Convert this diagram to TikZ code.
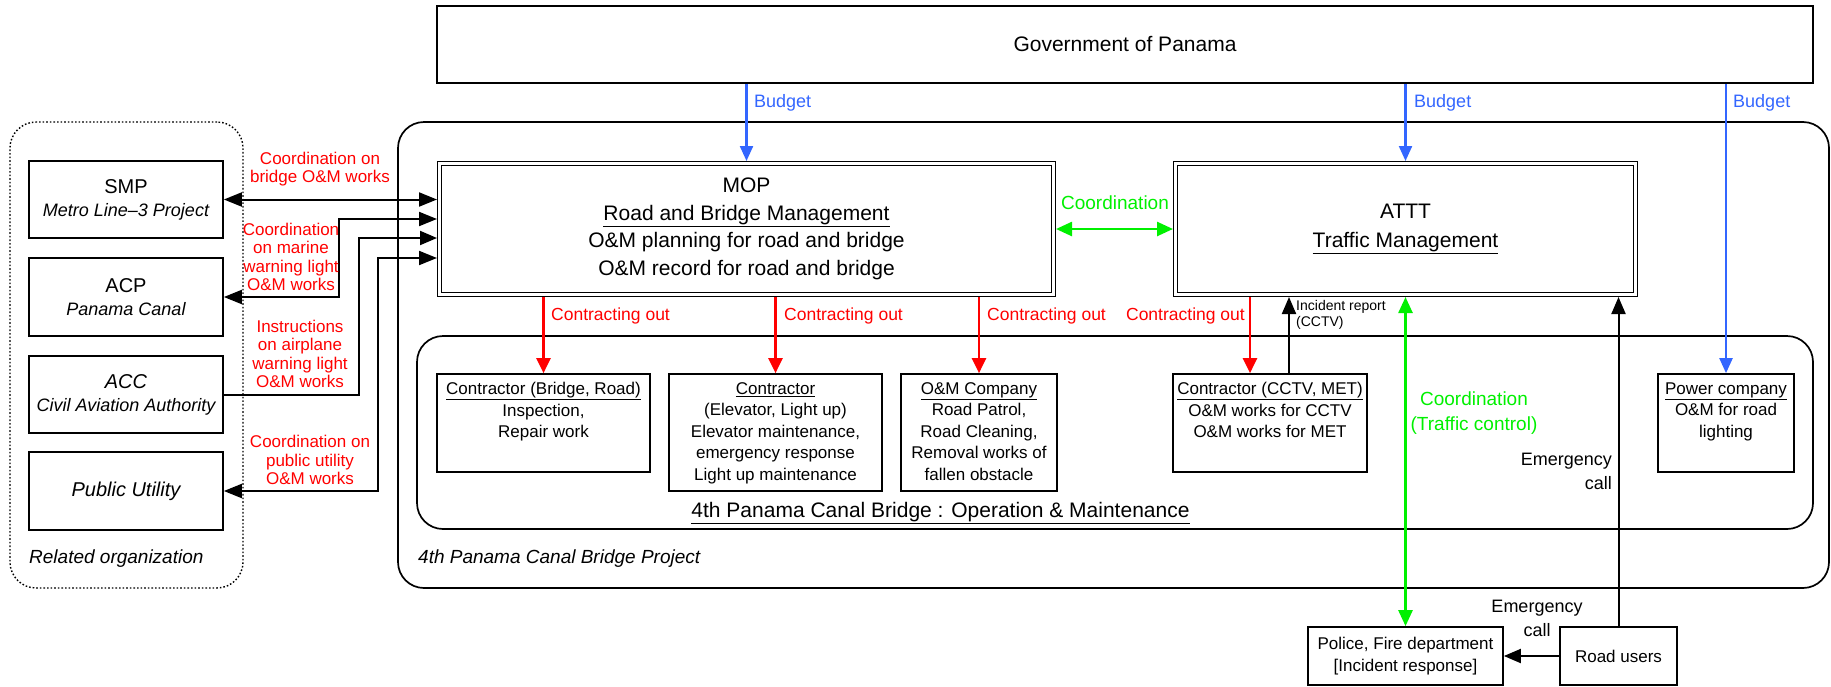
\documentclass[tikz,border=0pt]{standalone}
\usepackage{fontspec}
\setmainfont{Liberation Sans}
\usetikzlibrary{arrows.meta,calc}

\definecolor{budgetblue}{RGB}{51,102,255}
\definecolor{coordgreen}{RGB}{0,240,0}
\definecolor{workred}{RGB}{255,0,0}

\newcommand{\fsz}[2]{\fontsize{#1pt}{#2pt}\selectfont}

\begin{document}
\begin{tikzpicture}[x=1pt,y=-1pt,
  box/.style={draw,line width=1.7pt,inner sep=0pt,align=center},
  mainbox/.style={draw,line width=1.4pt,double,double distance=2.6pt,outer sep=2.7pt,inner sep=0pt,align=center},
  cont/.style={draw,line width=1.7pt,rounded corners=26pt,inner sep=0pt},
  intext/.style={font=\fsz{17}{21.5},align=center,inner sep=0pt},
  orgtext/.style={font=\fsz{18}{23},align=center},
  blkboth/.style={line width=2pt,{Triangle[length=18pt,width=14pt]}-{Triangle[length=18pt,width=14pt]}},
  blkto/.style={line width=2pt,-{Triangle[length=17pt,width=14pt]}},
  redto/.style={workred,line width=2.3pt,-{Triangle[length=15pt,width=14pt]}},
  greenboth/.style={coordgreen,line width=2.5pt,{Triangle[length=16pt,width=14pt]}-{Triangle[length=16pt,width=14pt]}},
  blueto/.style={budgetblue,line width=2.2pt,-{Triangle[length=15pt,width=13pt]}},
  redlbl/.style={text=workred,font=\fsz{17}{18.3},align=center,inner sep=0pt},
  greenlbl/.style={text=coordgreen,font=\fsz{19}{25},align=center,inner sep=0pt},
  bluelbl/.style={text=budgetblue,font=\fsz{18}{22},inner sep=0pt},
  blklbl/.style={font=\fsz{18}{24},inner sep=0pt},
  notelbl/.style={font=\fsz{19}{23}\itshape,inner sep=0pt}
]
\useasboundingbox (0,0) rectangle (1831,686);

% grouping frames
\node[cont,line width=1.4pt,dash pattern=on 1.6pt off 2pt,minimum width=233pt,minimum height=466pt] (relorg) at (126.5,355) {};
\node[cont,minimum width=1431pt,minimum height=466pt] (proj) at (1113.5,355) {};
\node[cont,minimum width=1396pt,minimum height=193pt] (om) at (1115,432.5) {};

\node[notelbl,anchor=west] (relorglbl) at (29,559) {Related organization};
\node[notelbl,anchor=west] (projlbl) at (418,559) {4th Panama Canal Bridge Project};
\node[font=\fsz{21}{25},anchor=base,inner sep=0pt] (omlbl) at (940.5,517) {\underline{4th Panama Canal Bridge : Operation \& Maintenance}};

% top level
\node[box,minimum width=1376pt,minimum height=77pt,font=\fsz{21}{26}] (gov) at (1125,44.5) {Government of Panama};

\node[mainbox,minimum width=613.6pt,minimum height=130.6pt,font=\fsz{21}{27.5}] (mop) at (746.5,229)
  {MOP\\\underline{Road and Bridge Management}\\O\&M planning for road and bridge\\O\&M record for road and bridge};
\node[mainbox,minimum width=459.6pt,minimum height=130.6pt,font=\fsz{21}{29}] (attt) at (1405.5,229)
  {ATTT\\\underline{Traffic Management}};

% related organizations
\node[box,orgtext,minimum width=194pt,minimum height=77pt] (smp) at (126,199.5)
  {{\fontsize{20pt}{23pt}\selectfont SMP}\\\itshape Metro Line–3 Project};
\node[box,orgtext,minimum width=194pt,minimum height=78pt] (acp) at (126,297)
  {{\fontsize{20pt}{23pt}\selectfont ACP}\\\itshape Panama Canal};
\node[box,orgtext,minimum width=194pt,minimum height=77pt] (acc) at (126,394.5)
  {{\fontsize{20pt}{23pt}\selectfont\itshape ACC}\\\itshape Civil Aviation Authority};
\node[box,orgtext,minimum width=194pt,minimum height=78pt] (pu) at (126,491)
  {{\fontsize{20pt}{23pt}\selectfont\itshape Public Utility}};

% O&M contractors
\node[box,minimum width=213pt,minimum height=98pt] (c1) at (543.5,423) {};
\node[intext,anchor=north] (c1t) at ($(c1.north)+(0,9)$)
  {\underline{Contractor (Bridge, Road)}\\Inspection,\\Repair work};
\node[box,minimum width=213pt,minimum height=117pt] (c2) at (775.5,432.5) {};
\node[intext,anchor=north] (c2t) at ($(c2.north)+(0,9)$)
  {\underline{Contractor}\\(Elevator, Light up)\\Elevator maintenance,\\emergency response\\Light up maintenance};
\node[box,minimum width=156pt,minimum height=117pt] (c3) at (979,432.5) {};
\node[intext,anchor=north] (c3t) at ($(c3.north)+(0,9)$)
  {\underline{O\&M Company}\\Road Patrol,\\Road Cleaning,\\Removal works of\\fallen obstacle};
\node[box,minimum width=194pt,minimum height=98pt] (c4) at (1270,423) {};
\node[intext,anchor=north] (c4t) at ($(c4.north)+(0,9)$)
  {\underline{Contractor (CCTV, MET)}\\O\&M works for CCTV\\O\&M works for MET};
\node[box,minimum width=136pt,minimum height=98pt] (c5) at (1726,423) {};
\node[intext,anchor=north] (c5t) at ($(c5.north)+(0,9)$)
  {\underline{Power company}\\O\&M for road\\lighting};

% outside parties
\node[box,minimum width=195pt,minimum height=58pt,font=\fsz{17}{21.5}] (police) at (1405.5,656)
  {Police, Fire department\\{[}Incident response{]}};
\node[box,minimum width=117pt,minimum height=58pt,font=\fsz{17}{21}] (road) at (1618.5,656) {Road users};

% budget flows
\draw[blueto] (gov.south -| mop.north) -- (mop.north);
\draw[blueto] (gov.south -| attt.north) -- (attt.north);
\draw[blueto] (gov.south -| c5.north) -- (c5.north);
\node[bluelbl,anchor=west] (b1) at (754,103) {Budget};
\node[bluelbl,anchor=west] (b2) at (1414,103) {Budget};
\node[bluelbl,anchor=west] (b3) at (1733,103) {Budget};

% links to related organizations
\coordinate (k2) at (339,219);
\coordinate (k3) at (359,238);
\coordinate (k4) at (378,258);
\draw[blkboth] (smp.east) -- (smp.east -| mop.west);
\draw[blkboth] (k2 -| mop.west) -- (k2) |- (acp.east);
\draw[blkto] (acc.east) -| (k3) -- (k3 -| mop.west);
\draw[blkboth] (k4 -| mop.west) -- (k4) |- (pu.east);

\node[redlbl] (l1) at (320,169) {Coordination on\\bridge O\&M works};
\node[redlbl] (l2) at (291,257) {Coordination\\on marine\\warning light\\O\&M works};
\node[redlbl] (l3) at (300,354) {Instructions\\on airplane\\warning light\\O\&M works};
\node[redlbl] (l4) at (310,460) {Coordination on\\public utility\\O\&M works};

% contracting out
\coordinate (xr) at (1250,0);
\coordinate (xi) at (1289,0);
\draw[redto] (mop.south -| c1.north) -- (c1.north);
\draw[redto] (mop.south -| c2.north) -- (c2.north);
\draw[redto] (mop.south -| c3.north) -- (c3.north);
\draw[redto] (attt.south -| xr) -- (c4.north -| xr);
\node[redlbl,font=\fsz{17.5}{20},anchor=west] (r1) at (551,316) {Contracting out};
\node[redlbl,font=\fsz{17.5}{20},anchor=west] (r2) at (784,316) {Contracting out};
\node[redlbl,font=\fsz{17.5}{20},anchor=west] (r3) at (987,316) {Contracting out};
\node[redlbl,font=\fsz{17.5}{20},anchor=east] (r4) at (1245,316) {Contracting out};

% coordination and reports around ATTT
\draw[greenboth] (mop.east) -- (attt.west);
\node[greenlbl] (g1) at (1115,203) {Coordination};
\draw[blkto] (c4.north -| xi) -- (attt.south -| xi);
\node[font=\fsz{14}{16},align=left,anchor=west,inner sep=0pt] (inc) at (1296,315) {Incident report\\(CCTV)};
\draw[greenboth] (attt.south) -- (police.north);
\node[greenlbl] (g2) at (1474,413) {Coordination\\(Traffic control)};
\draw[blkto] (road.north) -- (attt.south -| road.north);
\node[blklbl,align=right,anchor=east] (e1) at (1612,471) {Emergency\\call};
\draw[blkto] (road.west) -- (police.east);
\node[blklbl,align=center] (e2) at (1537,618) {Emergency\\call};
\end{tikzpicture}
\end{document}
